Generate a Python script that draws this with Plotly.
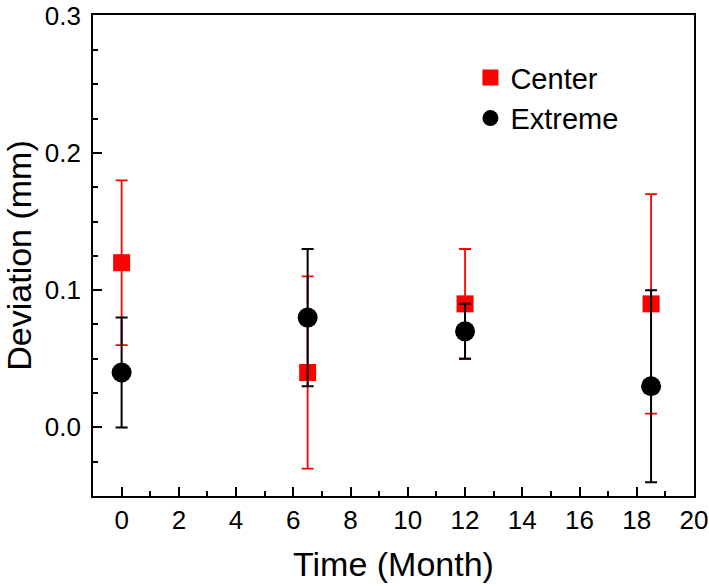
import plotly.graph_objects as go

# Data
time_center = [0, 6.5, 12, 18.5]
center_dev = [0.12, 0.04, 0.09, 0.09]
center_err = [0.06, 0.07, 0.04, 0.08]

time_extreme = [0, 6.5, 12, 18.5]
extreme_dev = [0.04, 0.08, 0.07, 0.03]
extreme_err = [0.04, 0.05, 0.02, 0.07]

y_tickvals = [0.0, 0.1, 0.2, 0.3]
y_ticktext = ["0.0", "0.1", "0.2", "0.3"]
x_tickvals = [0, 2, 4, 6, 8, 10, 12, 14, 16, 18, 20]

FONT = "Arial, 'Liberation Sans', sans-serif"

fig = go.Figure()
fig.add_trace(go.Scatter(
    x=time_center, y=center_dev, mode="markers", name="Center",
    marker=dict(symbol="square", size=17, color="#ff0000"),
    error_y=dict(type="data", array=center_err, visible=True,
                 color="#ff0000", thickness=1.8, width=6),
))
fig.add_trace(go.Scatter(
    x=time_extreme, y=extreme_dev, mode="markers", name="Extreme",
    marker=dict(symbol="circle", size=20, color="#000000"),
    error_y=dict(type="data", array=extreme_err, visible=True,
                 color="#000000", thickness=2, width=6),
))

fig.update_layout(
    width=709, height=586,
    margin=dict(l=93, r=15, t=15, b=90, autoexpand=False),
    paper_bgcolor="white", plot_bgcolor="white",
    font=dict(family=FONT, color="black"),
    showlegend=True,
    legend=dict(x=0.628, y=0.923, xanchor="left", yanchor="top",
                font=dict(size=29, family=FONT), bgcolor="rgba(0,0,0,0)",
                itemsizing="trace", tracegroupgap=0),
)
fig.update_xaxes(
    automargin=False, ticklabeloverflow="allow",
    range=[-1, 20], tickvals=x_tickvals, ticks="inside", ticklen=9, tickwidth=1.5,
    tickcolor="black", showline=True, linecolor="black", linewidth=1.8, mirror=True,
    showgrid=False, zeroline=False, tickfont=dict(size=26, family=FONT),
    minor=dict(dtick=1, tick0=0, ticks="inside", ticklen=5, tickwidth=1.5, tickcolor="black", showgrid=False),
    title=dict(text="Time (Month)", font=dict(size=34, family=FONT), standoff=18),
)
fig.update_yaxes(
    automargin=False, ticklabeloverflow="allow",
    range=[-0.05, 0.3005], tickvals=y_tickvals, ticktext=y_ticktext, ticks="inside", ticklen=9,
    tickwidth=1.5, tickcolor="black", showline=True, linecolor="black", linewidth=1.8,
    mirror=True, showgrid=False, zeroline=False, tickfont=dict(size=26, family=FONT),
    minor=dict(dtick=0.025, tick0=0, ticks="inside", ticklen=5, tickwidth=1.5, tickcolor="black", showgrid=False),
    title=dict(text="Deviation (mm)", font=dict(size=34, family=FONT), standoff=14),
    ticklabelstandoff=5,
)

fig.write_html("out.html", config={"displayModeBar": False},
               post_script="document.body.style.margin='0';document.body.style.overflow='hidden';")
